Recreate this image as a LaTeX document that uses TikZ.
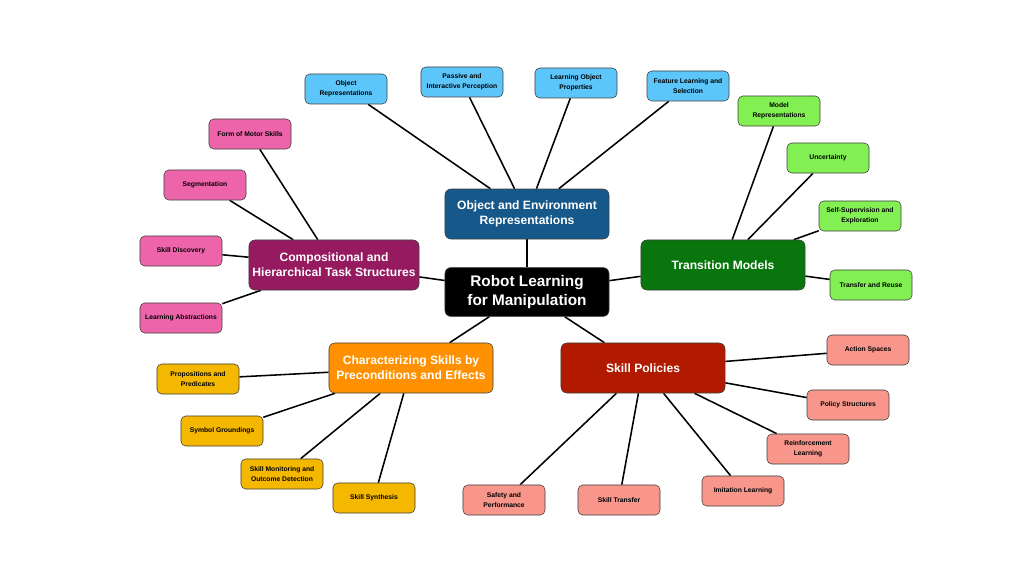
\documentclass[tikz,border=0pt]{standalone}
\usepackage{fontspec}
\setsansfont{Liberation Sans}
\usetikzlibrary{positioning, backgrounds}
\definecolor{objdark}{RGB}{22,88,138}
\definecolor{objlight}{RGB}{92,198,250}
\definecolor{transdark}{RGB}{8,118,12}
\definecolor{translight}{RGB}{130,240,82}
\definecolor{compdark}{RGB}{150,26,96}
\definecolor{complight}{RGB}{238,100,170}
\definecolor{chardark}{RGB}{255,145,0}
\definecolor{charlight}{RGB}{245,184,0}
\definecolor{poldark}{RGB}{178,26,0}
\definecolor{pollight}{RGB}{248,150,140}

\begin{document}
\begin{tikzpicture}[
  x=0.025cm, y=-0.025cm,
  root/.style={draw=black!80, fill=black, rounded corners=1.5mm, minimum width=4.1cm,
               minimum height=1.22cm, align=center, text=white, inner sep=1pt,
               font={\sffamily\bfseries\fontsize{10.9}{13}\selectfont}},
  branch/.style={draw=black!75, rounded corners=1.5mm, minimum width=4.1cm,
                 minimum height=1.25cm, align=center, text=white, inner sep=1pt,
                 font={\sffamily\bfseries\fontsize{8.6}{10.8}\selectfont}},
  leaf/.style={draw=black!75, rounded corners=1.2mm, minimum width=2.05cm,
               minimum height=0.75cm, align=center, inner sep=1pt,
               font={\sffamily\bfseries\fontsize{4.8}{7}\selectfont}},
  link/.style={line width=1.1pt, color=black},
]
\useasboundingbox (0,0) rectangle (1024,576);

% ---- Root ----
\node[root] (rlm) at (527,292) {Robot Learning\\for Manipulation};

% ---- Branches ----
\node[branch, fill=objdark, above=0.7cm of rlm] (oer) {Object and Environment\\Representations};
\node[branch, fill=transdark] (tm) at (723,265) {Transition Models};
\node[branch, fill=compdark, minimum width=4.25cm] (cht) at (334,265) {Compositional and\\Hierarchical Task Structures};
\node[branch, fill=chardark] (csp) at (411,368) {Characterizing Skills by\\Preconditions and Effects};
\node[branch, fill=poldark] (sp) at (643,368) {Skill Policies};

% ---- Object and environment leaves ----
\node[leaf, fill=objlight] (o1) at (346,89) {Object\\Representations};
\node[leaf, fill=objlight] (o2) at (462,82) {Passive and\\Interactive Perception};
\node[leaf, fill=objlight] (o3) at (576,83) {Learning Object\\Properties};
\node[leaf, fill=objlight] (o4) at (688,86) {Feature Learning and\\Selection};

% ---- Transition model leaves ----
\node[leaf, fill=translight] (t1) at (779,111) {Model\\Representations};
\node[leaf, fill=translight] (t2) at (828,158) {Uncertainty};
\node[leaf, fill=translight] (t3) at (860,216) {Self-Supervision and\\Exploration};
\node[leaf, fill=translight] (t4) at (871,285) {Transfer and Reuse};

% ---- Compositional leaves ----
\node[leaf, fill=complight] (c1) at (250,134) {Form of Motor Skills};
\node[leaf, fill=complight] (c2) at (205,185) {Segmentation};
\node[leaf, fill=complight] (c3) at (181,251) {Skill Discovery};
\node[leaf, fill=complight] (c4) at (181,318) {Learning Abstractions};

% ---- Characterizing leaves ----
\node[leaf, fill=charlight] (k1) at (198,379) {Propositions and\\Predicates};
\node[leaf, fill=charlight] (k2) at (222,431) {Symbol Groundings};
\node[leaf, fill=charlight] (k3) at (282,474) {Skill Monitoring and\\Outcome Detection};
\node[leaf, fill=charlight] (k4) at (374,498) {Skill Synthesis};

% ---- Policy leaves ----
\node[leaf, fill=pollight] (p1) at (868,350) {Action Spaces};
\node[leaf, fill=pollight] (p2) at (848,405) {Policy Structures};
\node[leaf, fill=pollight] (p3) at (808,449) {Reinforcement\\Learning};
\node[leaf, fill=pollight] (p4) at (743,491) {Imitation Learning};
\node[leaf, fill=pollight] (p5) at (619,500) {Skill Transfer};
\node[leaf, fill=pollight] (p6) at (504,500) {Safety and\\Performance};

% ---- Links (behind the boxes) ----
\begin{scope}[on background layer]
  % root -> branches
  \foreach \b in {oer, tm, cht, csp, sp}
    \draw[link] (rlm) -- (\b);

  % branches -> leaves
  \foreach \l in {o1, o2, o3, o4}
    \draw[link] (oer) -- (\l);
  \foreach \l in {t1, t2, t3, t4}
    \draw[link] (tm) -- (\l);
  \foreach \l in {c1, c2, c3, c4}
    \draw[link] (cht) -- (\l);
  \foreach \l in {k1, k2, k3, k4}
    \draw[link] (csp) -- (\l);
  \foreach \l in {p1, p2, p3, p4, p5, p6}
    \draw[link] (sp) -- (\l);
\end{scope}

\end{tikzpicture}
\end{document}
